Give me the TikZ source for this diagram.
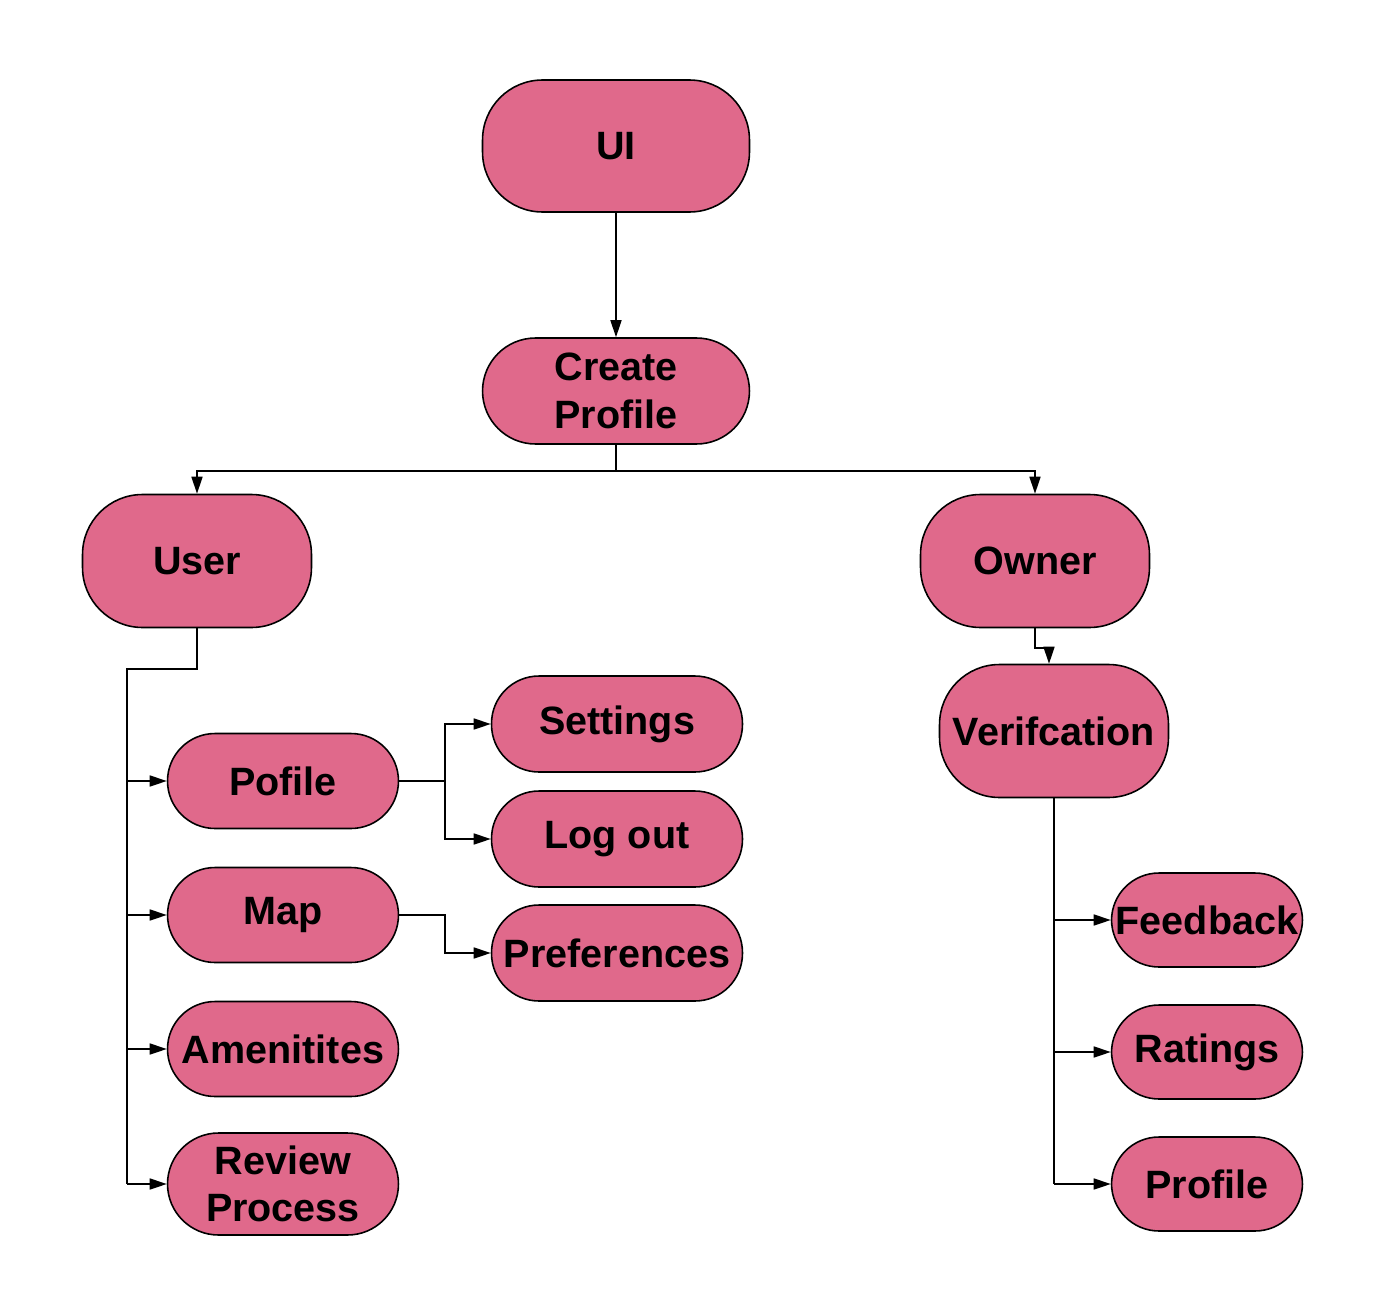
\documentclass[tikz,border=0pt]{standalone}
\usepackage{fontspec}
\setmainfont{Liberation Sans}
\usetikzlibrary{arrows.meta,calc}
\definecolor{boxpink}{HTML}{E0698B}
\begin{document}
\begin{tikzpicture}[x=0.02cm,y=-0.02cm,
  every node/.style={font=\fontsize{22.5}{27}\selectfont\bfseries,align=center,inner sep=0pt},
  box/.style={draw,line width=0.9pt,fill=boxpink,rounded corners=#1},
  box/.default=0.95cm,
  arr/.style={-{Triangle[length=0.34cm,width=0.22cm]},line width=0.9pt},
  line/.style={line width=0.9pt}]
  % Set the page's limits
  \useasboundingbox (0,0) rectangle (1386,1315);
  % Top of the tree
  \node[box=1.2cm,minimum width=5.34cm,minimum height=2.64cm] (ui) at (616,146) {UI};
  \node[box=1.06cm,minimum width=5.34cm,minimum height=2.12cm] (cp) at (616,391) {Create\\Profile};
  \node[box=1.2cm,minimum width=4.58cm,minimum height=2.66cm] (user) at (197,561) {User};
  \node[box=1.2cm,minimum width=4.58cm,minimum height=2.66cm] (owner) at (1035,561) {Owner};
  \node[box=1.2cm,minimum width=4.58cm,minimum height=2.66cm] (ver) at (1054,731) {Verifcation};
  % User side
  \node[box,minimum width=4.62cm,minimum height=1.9cm] (pof) at (283,781) {Pofile};
  \node[box,minimum width=4.62cm,minimum height=1.9cm] (map) at (283,915) {Map};
  \node[box,minimum width=4.62cm,minimum height=1.9cm] (amen) at (283,1049) {Amenitites};
  \node[box=1.02cm,minimum width=4.62cm,minimum height=2.04cm] (rev) at (283,1184) {Review\\Process};
  \node[box,minimum width=5.02cm,minimum height=1.92cm] (set) at (617,724) {Settings};
  \node[box,minimum width=5.02cm,minimum height=1.92cm] (logout) at (617,839) {Log out};
  \node[box,minimum width=5.02cm,minimum height=1.92cm] (pref) at (617,953) {Preferences};
  % Owner side
  \node[box,minimum width=3.82cm,minimum height=1.88cm] (fb) at (1207,920) {Feedback};
  \node[box,minimum width=3.82cm,minimum height=1.88cm] (rat) at (1207,1052) {Ratings};
  \node[box,minimum width=3.82cm,minimum height=1.88cm] (prof) at (1207,1184) {Profile};
  % Connectors
  \draw[arr] (ui) -- (cp);
  \draw[arr] (cp.south) -- ++(0,26) -| (user.north);
  \draw[arr] (cp.south) -- ++(0,26) -| (owner.north);
  \coordinate (ubus) at (127,669);
  \draw[line] (user.south) |- (ubus) -- (ubus |- rev.west);
  \foreach \n in {pof,map,amen,rev}
    \draw[arr] (ubus |- \n.west) -- (\n.west);
  \coordinate (pbus) at (445,781);
  \draw[line] (pof.east) -- (pbus);
  \draw[arr] (pbus) |- (set.west);
  \draw[arr] (pbus) |- (logout.west);
  \draw[arr] (map.east) -- ++(46,0) |- (pref.west);
  \draw[arr] (owner.south) -- ++(0,20) -| ([xshift=-0.1cm]ver.north);
  \draw[line] (ver.south) -- (ver.south |- prof.west);
  \foreach \n in {fb,rat,prof}
    \draw[arr] (ver.south |- \n.west) -- (\n.west);
\end{tikzpicture}
\end{document}
